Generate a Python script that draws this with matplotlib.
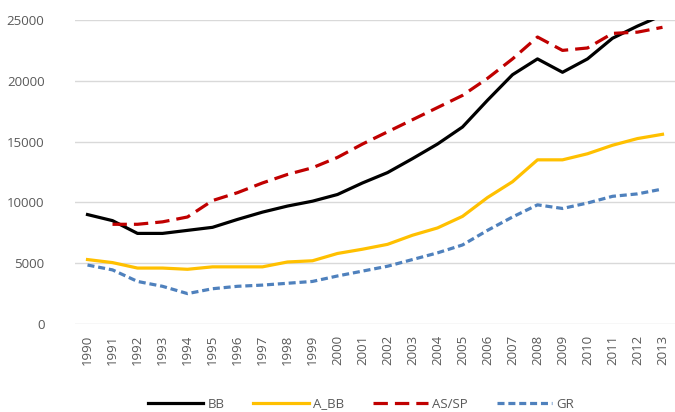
import matplotlib
matplotlib.use('Agg')
import matplotlib.pyplot as plt
import numpy as np

#==============================================================================
# Data
#==============================================================================

years = [str(y) for y in range(1990, 2014)]

bb = [9000, 8500, 7450, 7450, 7700, 7950, 8600, 9200, 9700, 10100, 10650,
      11600, 12450, 13600, 14800, 16200, 18400, 20500, 21800, 20700, 21800,
      23500, 24500, 25400]
a_bb = [5300, 5050, 4600, 4600, 4500, 4700, 4700, 4700, 5100, 5200, 5800,
        6150, 6550, 7300, 7900, 8850, 10400, 11700, 13500, 13500, 14000,
        14700, 15250, 15600]
as_sp = [None, 8200, 8200, 8400, 8800, 10150, 10800, 11600, 12300, 12850,
         13700, 14800, 15800, 16800, 17800, 18800, 20200, 21800, 23600,
         22500, 22700, 23900, 24000, 24400]
gr = [4850, 4450, 3500, 3100, 2500, 2900, 3100, 3200, 3350, 3500, 3950,
      4350, 4750, 5300, 5850, 6500, 7700, 8800, 9800, 9500, 9950, 10500,
      10700, 11100]

#==============================================================================
# Plot
#==============================================================================

plt.rcParams['font.family'] = ['Open Sans', 'DejaVu Sans']
grey = '#595959'

fig = plt.figure(figsize=(6.75, 4.12), dpi=100)
ax = fig.add_axes([75/675, 1 - 324/412, 600/675, 304/412])

x = np.arange(len(years))
as_sp_arr = np.array([np.nan if v is None else v for v in as_sp], float)

l1, = ax.plot(x, bb, color='black', lw=2.3, solid_joinstyle='round',
              label='BB')
l2, = ax.plot(x, a_bb, color='#FFC000', lw=2.3, label='A_BB')
l3, = ax.plot(x, as_sp_arr, color='#C00000', lw=2.3, dashes=(4.5, 2.2),
              label='AS/SP')
l4, = ax.plot(x, gr, color='#4F81BD', lw=2.3, dashes=(2.2, 1.2),
              label='GR')

ax.set_xlim(-0.5, len(years) - 0.5)
ax.set_ylim(0, 25000)
ax.set_yticks(np.arange(0, 25001, 5000))
ax.set_xticks(x)
ax.set_xticklabels(years, rotation=90)
ax.tick_params(axis='both', length=0, colors=grey, labelsize=9.5)
ax.tick_params(axis='y', pad=22)
ax.tick_params(axis='x', pad=8)
ax.grid(axis='y', color='#D9D9D9', lw=1)
ax.set_axisbelow(True)
for s in ax.spines.values():
    s.set_visible(False)

leg = fig.legend(handles=[l1, l2, l3, l4], loc='center',
                 bbox_to_anchor=(0.535, 1 - 404/412), ncol=4, frameon=False,
                 fontsize=9.5, handlelength=4.2, columnspacing=2.2,
                 handletextpad=0.3)
for t in leg.get_texts():
    t.set_color(grey)

fig.savefig('out.png', dpi=100)
